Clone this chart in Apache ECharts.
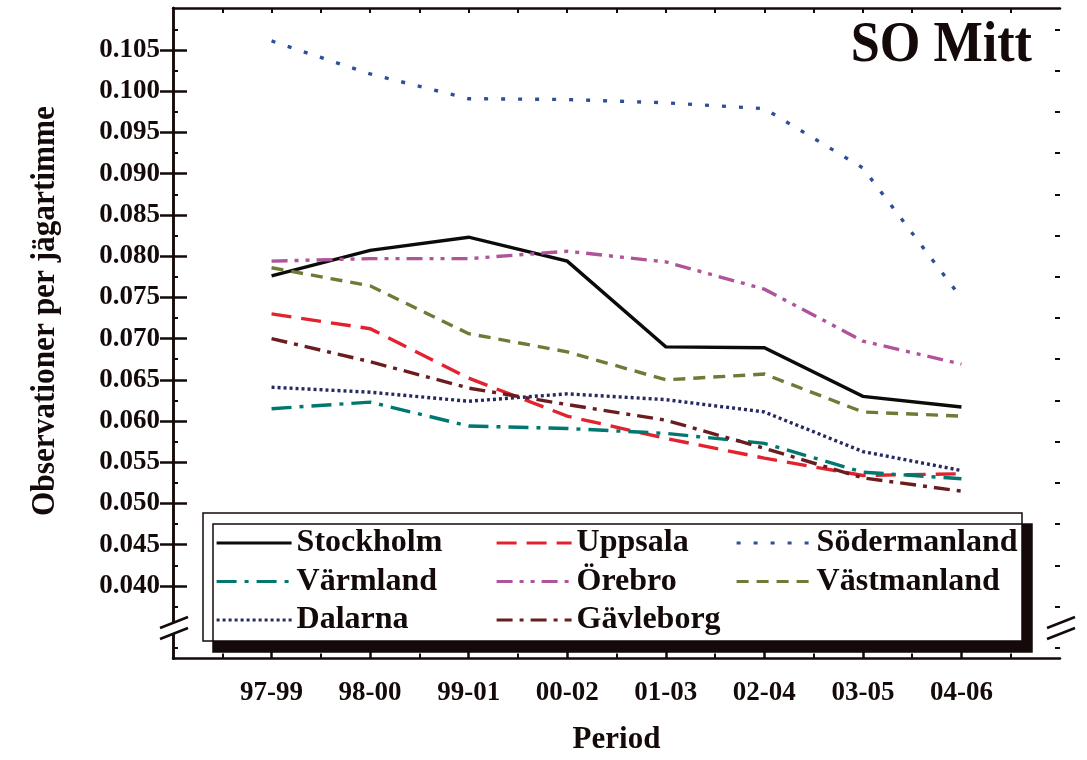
<!DOCTYPE html>
<html>
<head>
<meta charset="utf-8">
<script src="https://cdn.jsdelivr.net/npm/echarts@6/dist/echarts.min.js"></script>
<style>html,body{margin:0;padding:0;background:#fff}#c{width:1087px;height:760px}</style>
</head>
<body>
<div id="c"></div>
<script>
const periods = ['97-99','98-00','99-01','00-02','01-03','02-04','03-05','04-06'];
const stockholm    = [0.0776, 0.0807, 0.0823, 0.0794, 0.0690, 0.0689, 0.0630, 0.0617];
const uppsala      = [0.0730, 0.0712, 0.0652, 0.0606, 0.0579, 0.0555, 0.0534, 0.0536];
const sodermanland = [0.1061, 0.1021, 0.0991, 0.0990, 0.0986, 0.0979, 0.0907, 0.0749];
const varmland     = [0.0615, 0.0623, 0.0594, 0.0591, 0.0585, 0.0573, 0.0538, 0.0530];
const orebro       = [0.0794, 0.0797, 0.0797, 0.0806, 0.0793, 0.0760, 0.0697, 0.0669];
const vastmanland  = [0.0786, 0.0764, 0.0706, 0.0684, 0.0650, 0.0657, 0.0611, 0.0606];
const dalarna      = [0.0641, 0.0635, 0.0624, 0.0633, 0.0626, 0.0611, 0.0563, 0.0540];
const gavleborg    = [0.0700, 0.0672, 0.0640, 0.0620, 0.0601, 0.0567, 0.0531, 0.0515];
const yTicks = [0.040,0.045,0.050,0.055,0.060,0.065,0.070,0.075,0.080,0.085,0.090,0.095,0.100,0.105];
const yMinorTicks = [0.0325,0.0375,0.0425,0.0475,0.0525,0.0575,0.0625,0.0675,0.0725,0.0775,0.0825,0.0875,0.0925,0.0975,0.1025,0.1075];
const xTicks = [1,2,3,4,5,6,7,8];
const xMinorTicks = [0.5,1.5,2.5,3.5,4.5,5.5,6.5,7.5,8.5];
const xTopTicks = [0.5,1,1.5,2,2.5,3,3.5,4,4.5,5,5.5,6,6.5,7,7.5,8,8.5];

const FONT = '"Liberation Serif","Times New Roman",serif';
const INK = '#140a0a';

const seriesDefs = [
  {name:'Stockholm',    data:stockholm,    color:'#0d0a0a', type:'solid'},
  {name:'Uppsala',      data:uppsala,      color:'#e3222f', type:[20,10]},
  {name:'Södermanland', data:sodermanland, color:'#2c4f98', type:[4,13]},
  {name:'Värmland',     data:varmland,     color:'#00776f', type:[20,8,4,8]},
  {name:'Örebro',       data:orebro,       color:'#b0549a', type:[16,7,4,7,4,7]},
  {name:'Västmanland',  data:vastmanland,  color:'#6d7b36', type:[12,8]},
  {name:'Dalarna',      data:dalarna,      color:'#272a62', type:[3,3]},
  {name:'Gävleborg',    data:gavleborg,    color:'#6a1d1f', type:[16,7,4,7]}
];

const chart = echarts.init(document.getElementById('c'), null, {renderer:'canvas'});

const axisLine = {show:true, lineStyle:{color:INK, width:2.5}};
const labelStyle = {fontFamily:FONT, fontWeight:'bold', fontSize:27, color:INK};
const legendCommon = {
  orient:'vertical', top:527, padding:0, itemWidth:75, itemHeight:14, itemGap:6.5,
  selectedMode:false, z:20,
  lineStyle:{width:3.2},
  itemStyle:{color:'rgba(0,0,0,0)', borderWidth:0, opacity:0},
  textStyle:{fontFamily:FONT, fontWeight:'bold', fontSize:32, color:INK, lineHeight:32}
};

const option = {
  backgroundColor:'#fff',
  animation:false,
  grid:{left:173, right:27, top:8, bottom:99},
  xAxis:[
    {type:'value', min:0, max:9, position:'bottom',
     axisLine:axisLine, splitLine:{show:false},
     axisTick:{show:true, inside:true, length:12, customValues:xTicks, lineStyle:{color:INK,width:2.5}},
     axisLabel:{show:true, customValues:xTicks, margin:21, formatter:v=>periods[Math.round(v)-1]||'', ...labelStyle},
     name:'Period', nameLocation:'middle', nameGap:81,
     nameTextStyle:{fontFamily:FONT, fontWeight:'bold', fontSize:31, color:INK, verticalAlign:'middle'}},
    {type:'value', min:0, max:9, position:'bottom',
     axisLine:{show:false}, splitLine:{show:false}, axisLabel:{show:false},
     axisTick:{show:true, inside:true, length:5, customValues:xMinorTicks, lineStyle:{color:INK,width:2}}},
    {type:'value', min:0, max:9, position:'top',
     axisLine:axisLine, splitLine:{show:false}, axisLabel:{show:false},
     axisTick:{show:true, inside:true, length:5, customValues:xTopTicks, lineStyle:{color:INK,width:2}}}
  ],
  yAxis:[
    {type:'value', min:0.0312, max:0.1101, position:'left',
     axisLine:axisLine, splitLine:{show:false},
     axisTick:{show:true, inside:true, length:14, customValues:yTicks, lineStyle:{color:INK,width:2.5}},
     axisLabel:{show:true, customValues:yTicks, margin:13, formatter:v=>v.toFixed(3), ...labelStyle}},
    {type:'value', min:0.0312, max:0.1101, position:'left',
     axisLine:{show:false}, splitLine:{show:false}, axisLabel:{show:false},
     axisTick:{show:true, inside:true, length:5, customValues:yMinorTicks, lineStyle:{color:INK,width:2}}},
    {type:'value', min:0.0312, max:0.1101, position:'right',
     axisLine:axisLine, splitLine:{show:false}, axisLabel:{show:false},
     axisTick:{show:true, inside:true, length:13, customValues:yTicks, lineStyle:{color:INK,width:2.5}}},
    {type:'value', min:0.0312, max:0.1101, position:'right',
     axisLine:{show:false}, splitLine:{show:false}, axisLabel:{show:false},
     axisTick:{show:true, inside:true, length:5, customValues:yMinorTicks, lineStyle:{color:INK,width:2}}}
  ],
  legend:[
    Object.assign({}, legendCommon, {left:215, data:['Stockholm','Värmland','Dalarna']}),
    Object.assign({}, legendCommon, {left:495, data:['Uppsala','Örebro','Gävleborg']}),
    Object.assign({}, legendCommon, {left:735, data:['Södermanland','Västmanland']})
  ],
  series: seriesDefs.map(s => ({
    name:s.name, type:'line', xAxisIndex:0, yAxisIndex:0,
    symbol:'none', showSymbol:false, smooth:false, z:3,
    color:s.color,
    lineStyle:{color:s.color, width:3.4, type:s.type, cap:'butt', join:'miter'},
    data:s.data.map((v,i)=>[i+1, v])
  })),
  graphic:[
    {type:'rect', z:10, shape:{x:203, y:513, width:819, height:128},
     style:{fill:'#fff', stroke:INK, lineWidth:1.5, shadowColor:INK, shadowBlur:0, shadowOffsetX:10, shadowOffsetY:11}},
    {type:'polygon', z:15, shape:{points:[[158,629],[190,617],[190,628],[158,640]]}, style:{fill:'#fff'}},
    {type:'line', z:16, shape:{x1:160, y1:628, x2:188, y2:617}, style:{stroke:INK, lineWidth:2.5}},
    {type:'line', z:16, shape:{x1:160, y1:639, x2:188, y2:628}, style:{stroke:INK, lineWidth:2.5}},
    {type:'polygon', z:15, shape:{points:[[1045,629],[1077,617],[1077,628],[1045,640]]}, style:{fill:'#fff'}},
    {type:'line', z:16, shape:{x1:1047, y1:628, x2:1075, y2:617}, style:{stroke:INK, lineWidth:2.5}},
    {type:'line', z:16, shape:{x1:1047, y1:639, x2:1075, y2:628}, style:{stroke:INK, lineWidth:2.5}},
    {type:'text', z:20, x:1032, y:46, scaleX:0.9,
     style:{text:'SO Mitt', font:'bold 58px '+FONT, fill:INK, align:'right', verticalAlign:'middle'}},
    {type:'text', z:20, x:45, y:311, rotation:Math.PI/2, scaleX:0.92,
     style:{text:'Observationer per jägartimme', font:'bold 34px '+FONT, fill:INK, align:'center', verticalAlign:'middle'}}
  ]
};
chart.setOption(option);
</script>
</body>
</html>
